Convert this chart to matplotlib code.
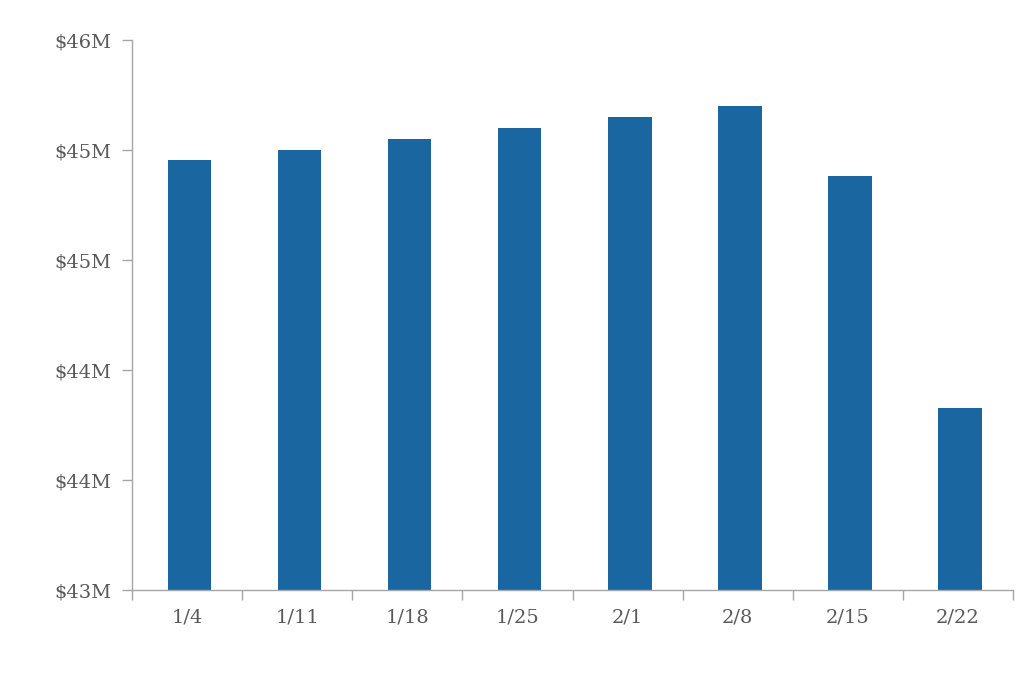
import numpy as np
import matplotlib.pyplot as plt
from matplotlib.ticker import FuncFormatter, FixedLocator

# Weekly values, in $M
weeks = ['1/4', '1/11', '1/18', '1/25', '2/1', '2/8', '2/15', '2/22']
values = [45.345, 45.40, 45.46, 45.52, 45.58, 45.64, 45.258, 43.993]

bar_color = '#1A66A0'
text_color = '#595959'
axis_color = '#A6A6A6'

plt.rcParams['font.family'] = ['DejaVu Serif']

fig = plt.figure(figsize=(10.24, 6.76), dpi=100)
ax = fig.add_axes([132 / 1024, 1 - 590 / 676, (1013 - 132) / 1024, 550 / 676])

x = np.arange(len(weeks))
ax.bar(x + 0.02, values, width=0.395, color=bar_color)

ax.set_xlim(-0.5, len(weeks) - 0.5)
ax.set_ylim(43, 46)
ax.set_yticks(np.linspace(43, 46, 6))
ax.yaxis.set_major_formatter(FuncFormatter(lambda v, p: f'${v:.0f}M'))

ax.set_xticks(x)
ax.set_xticklabels(weeks)
ax.xaxis.set_minor_locator(FixedLocator(np.arange(-0.5, len(weeks), 1.0)))
ax.tick_params(axis='x', which='major', length=0, pad=13, labelsize=14, labelcolor=text_color)
ax.tick_params(axis='x', which='minor', length=7, color=axis_color, width=1)
ax.tick_params(axis='y', length=7, color=axis_color, width=1, pad=8, labelsize=14, labelcolor=text_color)

for side in ['top', 'right']:
    ax.spines[side].set_visible(False)
for side in ['left', 'bottom']:
    ax.spines[side].set_color(axis_color)
    ax.spines[side].set_linewidth(1)

fig.savefig('out.png', dpi=100)
